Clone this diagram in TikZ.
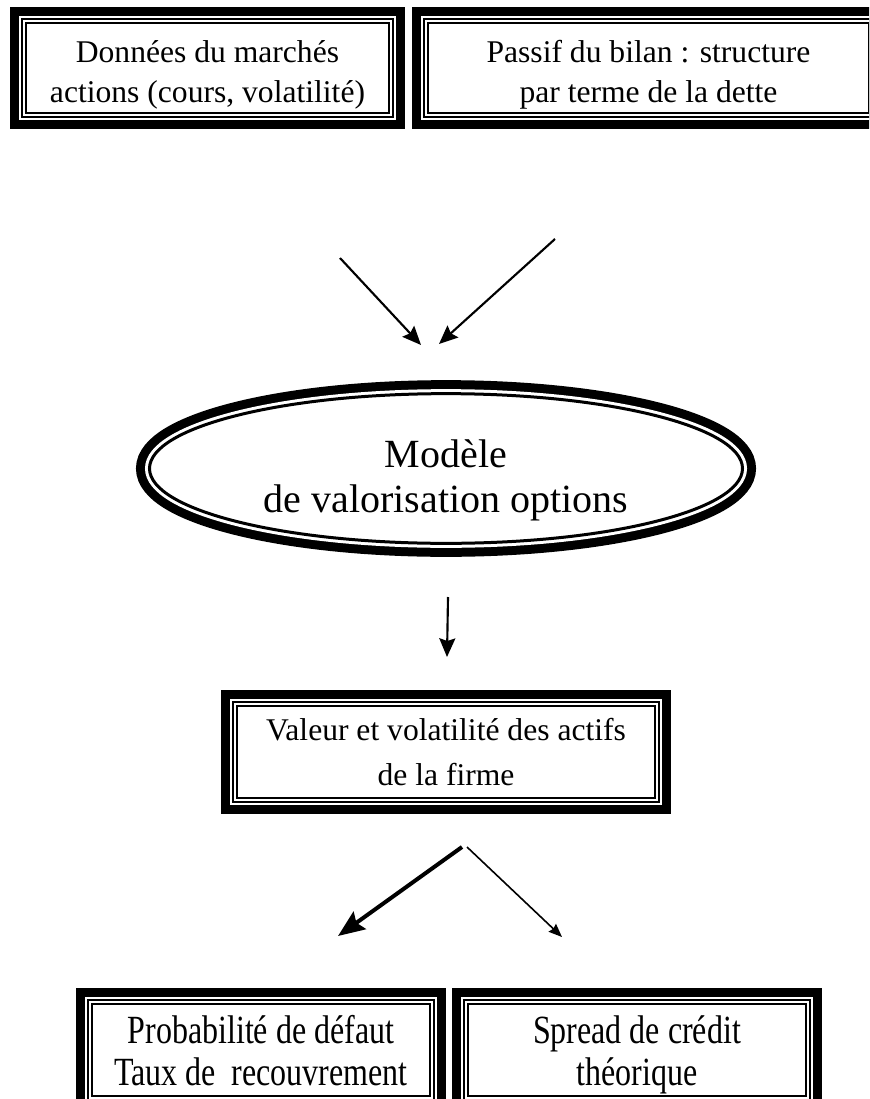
\documentclass[tikz,border=0pt]{standalone}
\usepackage{fontspec}
\setmainfont{Liberation Serif}
\newfontfamily\narrowserif{Liberation Serif}[FakeStretch=0.8]
\usetikzlibrary{arrows.meta,shapes.geometric}

\tikzset{
  framebox/.style={draw, double, line width=1.5pt, double distance=1.5pt,
    fill=white, inner sep=0pt, align=center,
    preaction={draw, line width=21pt},
    preaction={draw, white, line width=7.5pt}},
  ovalframe/.style={ellipse, draw, line width=2.25pt, fill=white,
    inner sep=0pt, align=center,
    preaction={draw, line width=20.25pt},
    preaction={draw, white, line width=6.75pt}},
  boxtext/.style={font=\fontsize{23.7}{30}\selectfont},
  lowtext/.style={font=\narrowserif\fontsize{30}{31}\selectfont},
  arr/.style={-{Stealth[length=14pt,width=12pt,inset=2pt]}, line width=1.6pt}
}

\begin{document}
\begin{tikzpicture}[x=0.75pt,y=-0.75pt]
\path[use as bounding box] (0,0) rectangle (869,1099);
\clip (0,0) rectangle (869,1099);

% donnees d'entree
\node[framebox, boxtext, minimum width=275.25pt, minimum height=70.5pt] (donnees) at (207.5,68)
  {\rule{0pt}{27pt}Données du marchés\\actions (cours, volatilité)};
\node[framebox, boxtext, minimum width=333.75pt, minimum height=70.5pt] (passif) at (648.5,68)
  {\rule{0pt}{27pt}Passif du bilan : structure\\par terme de la dette};

% modele
\node[ovalframe, minimum width=444.75pt, minimum height=102.75pt,
  font=\fontsize{30}{34}\selectfont] (modele) at (446,468.5)
  {\rule{0pt}{39pt}Modèle\\de valorisation options};

% sortie du modele
\node[framebox, minimum width=316.5pt, minimum height=72pt,
  font=\fontsize{23.7}{34}\selectfont] (actifs) at (446,752)
  {Valeur et volatilité des actifs\\de la firme};

% resultats
\node[framebox, lowtext, minimum width=256.5pt, minimum height=72pt] (defaut) at (261,1050)
  {\rule{0pt}{31pt}Probabilité de défaut\\Taux de~ recouvrement\strut};
\node[framebox, lowtext, minimum width=256.5pt, minimum height=72pt] (spread) at (637,1050)
  {\rule{0pt}{31pt}Spread de crédit\\théorique\strut};

% fleches
\coordinate (donneesout) at (340,258);
\coordinate (passifout) at (555,239);
\coordinate (modelein1) at (421,345);
\coordinate (modelein2) at (439,344);
\coordinate (modeleout) at (448,597);
\coordinate (actifsin) at (447,657);
\coordinate (actifsout1) at (462,847);
\coordinate (actifsout2) at (467,847);
\coordinate (defautin) at (338,936);
\coordinate (spreadin) at (562,937);

\draw[arr] (donneesout) -- (modelein1);
\draw[arr] (passifout) -- (modelein2);
\draw[arr] (modeleout) -- (actifsin);
\draw[arr, line width=3pt, -{Stealth[length=20pt,width=16pt,inset=3pt]}] (actifsout1) -- (defautin);
\draw[arr, line width=1.2pt, -{Stealth[length=10pt,width=8pt,inset=1pt]}] (actifsout2) -- (spreadin);
\end{tikzpicture}
\end{document}
